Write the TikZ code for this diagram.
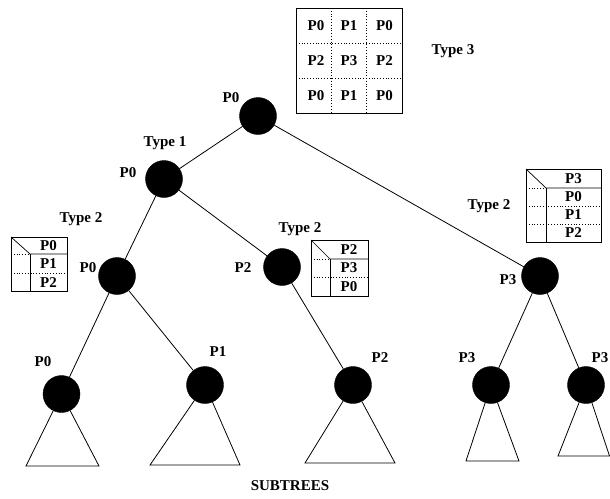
\documentclass[tikz,border=0pt]{standalone}
\usepackage{fontspec}
\setmainfont{Liberation Serif}
\begin{document}
\begin{tikzpicture}[x=1pt,y=-1pt,
  every node/.style={font=\fontsize{15}{17}\selectfont\bfseries},
  proc/.style={circle,fill=black,draw=black,minimum size=37pt,inner sep=0pt},
  lbl/.style={inner sep=0pt},
  cell/.style={inner sep=0pt},
  edge/.style={line width=0.8pt},
  grid/.style={line width=0.7pt},
  dotl/.style={line width=0.8pt,dotted}]
\useasboundingbox (0,0) rectangle (610,498);
% tree nodes
\node[proc] (r) at (258,116) {};
\node[proc] (a) at (164,179) {};
\node[proc] (b) at (117,276) {};
\node[proc] (c) at (282,267) {};
\node[proc] (d) at (540,276) {};
\node[proc] (e) at (61.5,394) {};
\node[proc] (f) at (205,385) {};
\node[proc] (g) at (353,385) {};
\node[proc] (h) at (491,385) {};
\node[proc] (i) at (586,385) {};
% edges
\draw[edge] (r) -- (a);
\draw[edge] (r) -- (d);
\draw[edge] (a) -- (b);
\draw[edge] (a) -- (c);
\draw[edge] (b) -- (e);
\draw[edge] (b) -- (f);
\draw[edge] (c) -- (g);
\draw[edge] (d) -- (h);
\draw[edge] (d) -- (i);
% subtrees
\coordinate (e1) at (26,466); \coordinate (e2) at (99,466);
\coordinate (f1) at (150,465); \coordinate (f2) at (240,465);
\coordinate (g1) at (305,463); \coordinate (g2) at (395,463);
\coordinate (h1) at (466,461); \coordinate (h2) at (519,461);
\coordinate (i1) at (558,456); \coordinate (i2) at (609.5,456);
\draw[edge] (e) -- (e1) -- (e2) -- (e);
\draw[edge] (f) -- (f1) -- (f2) -- (f);
\draw[edge] (g) -- (g1) -- (g2) -- (g);
\draw[edge] (h) -- (h1) -- (h2) -- (h);
\draw[edge] (i) -- (i1) -- (i2) -- (i);
% node labels
\node[lbl] (lr) at (231,98) {P0};
\node[lbl] (la) at (128,173) {P0};
\node[lbl] (lt1) at (165,143) {Type 1};
\node[lbl] (lb) at (88,268) {P0};
\node[lbl] (lt2a) at (81,219) {Type 2};
\node[lbl] (lc) at (243,268) {P2};
\node[lbl] (lt2b) at (300,229) {Type 2};
\node[lbl] (ld) at (508,280) {P3};
\node[lbl] (lt2c) at (489,206) {Type 2};
\node[lbl] (le) at (43,362) {P0};
\node[lbl] (lf) at (218,352) {P1};
\node[lbl] (lg) at (380,358) {P2};
\node[lbl] (lh) at (467,358) {P3};
\node[lbl] (li) at (600,358) {P3};
\node[lbl] (lt3) at (453,51) {Type 3};
\node[lbl] (sub) at (290,486) {SUBTREES};
% Type 3 box
\draw[grid] (296,8) rectangle (402,113);
\draw[dotl] (331.3,8) -- (331.3,113);
\draw[dotl] (366.7,8) -- (366.7,113);
\draw[dotl] (296,43) -- (402,43);
\draw[dotl] (296,78) -- (402,78);
\node[cell] (t11) at (316,26) {P0};
\node[cell] (t12) at (349,26) {P1};
\node[cell] (t13) at (384.5,26) {P0};
\node[cell] (t21) at (316,61) {P2};
\node[cell] (t22) at (349,61) {P3};
\node[cell] (t23) at (384.5,61) {P2};
\node[cell] (t31) at (316,96) {P0};
\node[cell] (t32) at (349,96) {P1};
\node[cell] (t33) at (384.5,96) {P0};
% Type 2 box left
\draw[grid] (11,237) rectangle (67,291);
\draw[grid] (11,237) -- (30,254) -- (67,254);
\draw[grid] (30,254) -- (30,291);
\draw[dotl] (11,254) -- (30,254);
\draw[dotl] (11,273) -- (67,273);
\node[cell] (p01) at (48.5,245.5) {P0};
\node[cell] (p02) at (48.5,264) {P1};
\node[cell] (p03) at (48.5,282.5) {P2};
% Type 2 box middle
\draw[grid] (311,240) rectangle (368,296);
\draw[grid] (311,240) -- (330,259) -- (368,259);
\draw[grid] (330,259) -- (330,296);
\draw[dotl] (311,259) -- (330,259);
\draw[dotl] (311,277) -- (368,277);
\node[cell] (q01) at (349,249.5) {P2};
\node[cell] (q02) at (349,268) {P3};
\node[cell] (q03) at (349,286.5) {P0};
% Type 2 box right
\draw[grid] (526,169) rectangle (601,242);
\draw[grid] (526,169) -- (546,188) -- (601,188);
\draw[grid] (546,188) -- (546,242);
\draw[dotl] (526,188) -- (546,188);
\draw[dotl] (526,206) -- (601,206);
\draw[dotl] (526,224) -- (601,224);
\node[cell] (s01) at (573.5,178.5) {P3};
\node[cell] (s02) at (573.5,197) {P0};
\node[cell] (s03) at (573.5,215) {P1};
\node[cell] (s04) at (573.5,233) {P2};
\end{tikzpicture}
\end{document}
